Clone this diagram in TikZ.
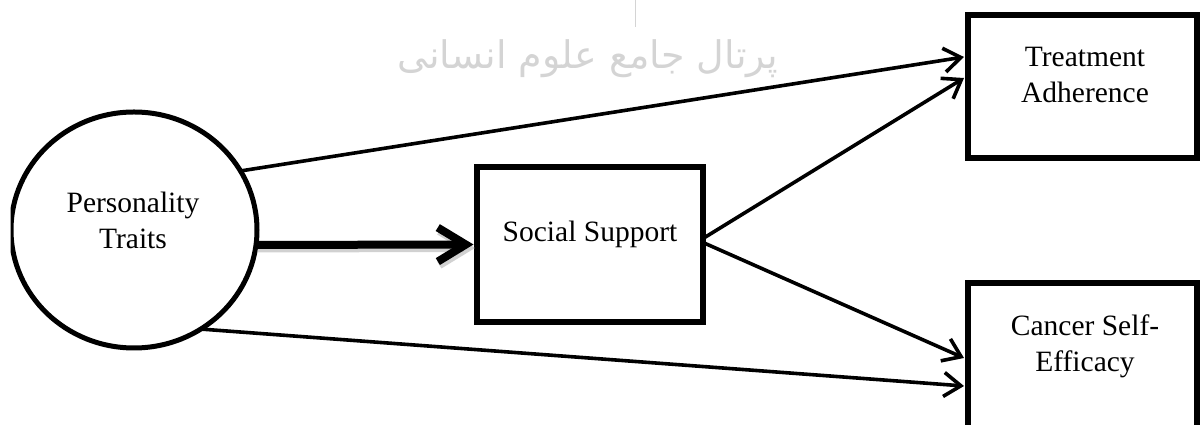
\documentclass[tikz,border=0pt]{standalone}
\usepackage{fontspec}
\setmainfont{Liberation Serif}
\newfontfamily\arabicfont[Script=Arabic]{DejaVu Sans}
\TeXXeTstate=1
\usetikzlibrary{arrows.meta,shapes.geometric,calc}
\begin{document}
\begin{tikzpicture}[x=1pt,y=1pt,
  box/.style={draw, line width=5.5pt, minimum width=229pt, minimum height=143pt, inner sep=0pt, outer sep=0pt},
  lbl/.style={font=\fontsize{29.5}{36}\selectfont, align=center, inner sep=0pt},
  conn/.style={line width=3.6pt, line cap=round, -{Straight Barb[length=17pt,width=24pt]}},
  thick arrow/.style={line width=8pt, -{Straight Barb[length=28pt,width=34pt]}},
  ]
\useasboundingbox (0,0) rectangle (1200,425);
\clip (10.5,0) rectangle (1200,425);
% watermark
\node[text=black!17, font=\arabicfont\fontsize{38}{38}\selectfont, inner sep=0pt] (wm) at (588,366) {\beginR پرتال جامع علوم انسانی\endR};
\draw[black!17, line width=1pt] (635,425) -- (635,398);
% nodes
\node[draw, ellipse, line width=5pt, minimum width=246pt, minimum height=236pt, inner sep=0pt, outer sep=0pt] (pt) at (134,195) {};
\node[lbl] (ptl) at (133,205) {Personality\\Traits};
\node[box, minimum width=226pt, minimum height=155pt] (ss) at (590,180.5) {};
\node[lbl] (ssl) at (590,191) {Social Support};
\node[box] (ta) at (1082.5,338.5) {};
\node[lbl] (tal) at (1085,350) {Treatment\\Adherence};
\node[box, minimum height=145pt] (cs) at (1082.5,69.5) {};
\node[lbl] (csl) at (1085,79) {Cancer Self-\\Efficacy};
% connectors
\coordinate (ts) at (pt.-7);
\coordinate (te) at ($(ss.west)+(-3.5,0)$);
\draw[thick arrow, black!30, opacity=.6] ($(ts)+(1.5,-3.5)$) -- ($(te)+(1.5,-3.5)$);
\draw[thick arrow] (ts) -- (te);
\draw[conn] (pt.29) -- ($(ta.west)+(-4,29.5)$);
\draw[conn] ($(ss.east)+(0,6)$) -- ($(ta.west)+(-4,8.5)$);
\draw[conn] ($(ss.east)+(0,2)$) -- ($(cs.west)+(-4,-2.5)$);
\draw[conn] (pt.-56) -- ($(cs.west)+(-4,-30.5)$);
\end{tikzpicture}
\end{document}
